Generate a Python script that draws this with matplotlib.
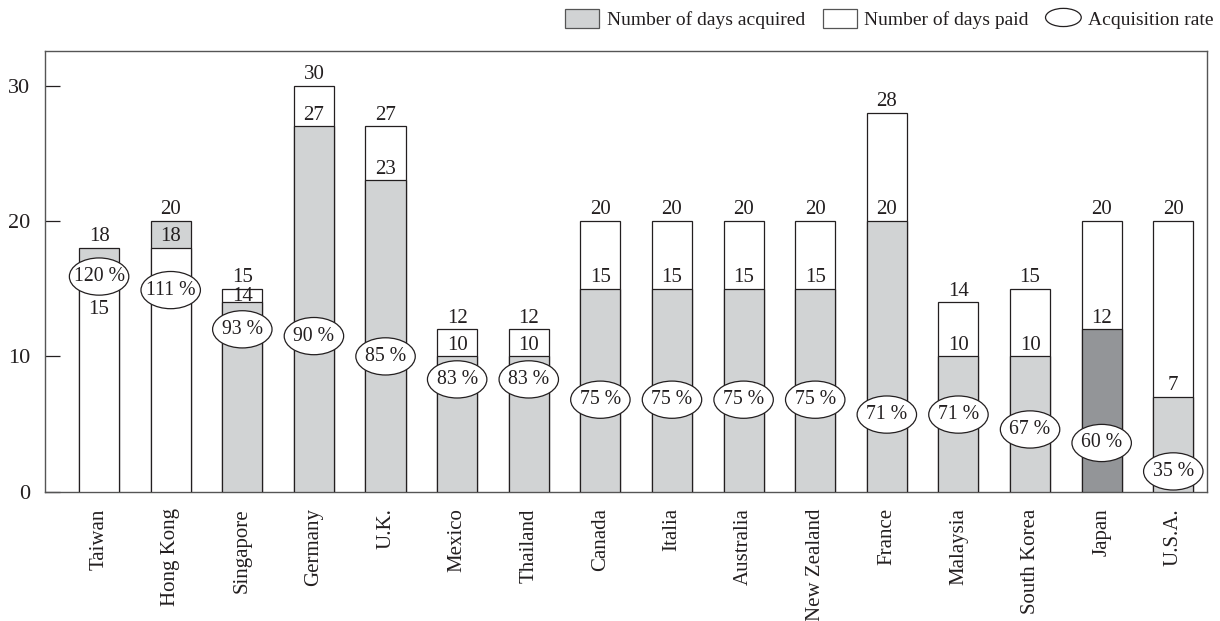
import matplotlib
matplotlib.use("Agg")
import matplotlib.pyplot as plt
from matplotlib.patches import Ellipse, Patch
from matplotlib.legend_handler import HandlerPatch

plt.rcParams["font.family"] = ["Liberation Serif", "DejaVu Serif"]

# data
countries = ["Taiwan", "Hong Kong", "Singapore", "Germany", "U.K.", "Mexico",
             "Thailand", "Canada", "Italia", "Australia", "New Zealand",
             "France", "Malaysia", "South Korea", "Japan", "U.S.A."]
days_paid = [15, 18, 15, 30, 27, 12, 12, 20, 20, 20, 20, 28, 14, 15, 20, 20]
days_acquired = [18, 20, 14, 27, 23, 10, 10, 15, 15, 15, 15, 20, 10, 10, 12, 7]
rate_labels = ["120 %", "111 %", "93 %", "90 %", "85 %", "83 %", "83 %", "75 %",
               "75 %", "75 %", "75 %", "71 %", "71 %", "67 %", "60 %", "35 %"]

# layout: where the rate ellipses sit (in y units)
rate_y = [15.9, 14.9, 12.0, 11.5, 10.0, 8.3, 8.3, 6.8, 6.8, 6.8, 6.8,
          5.7, 5.7, 4.6, 3.6, 1.5]
highlight = "Japan"

GRAY = "#d1d3d4"
DARK = "#939598"
EDGE = "#231f20"


class HandlerEllipse(HandlerPatch):
    def create_artists(self, legend, orig_handle, xdescent, ydescent,
                       width, height, fontsize, trans):
        cx = 0.5 * width - 0.5 * xdescent
        cy = 0.5 * height - 0.5 * ydescent
        p = Ellipse((cx, cy), (width + xdescent) * 1.05, (height + ydescent) * 0.85)
        self.update_prop(p, orig_handle, legend)
        p.set_transform(trans)
        return [p]


fig = plt.figure(figsize=(12.2, 6.21), dpi=100)
ax = fig.add_axes([0.0369, 0.2082, 0.9524, 0.7097])

x = list(range(len(countries)))
w = 0.56
for i, c in enumerate(countries):
    p, a = days_paid[i], days_acquired[i]
    acq_color = DARK if c == highlight else GRAY
    # draw the taller bar first, the shorter one on top
    if a > p:
        ax.bar(i, a, w, color=acq_color, edgecolor=EDGE, linewidth=0.9, zorder=2)
        ax.bar(i, p, w, color="white", edgecolor=EDGE, linewidth=0.9, zorder=3)
    else:
        ax.bar(i, p, w, color="white", edgecolor=EDGE, linewidth=0.9, zorder=2)
        ax.bar(i, a, w, color=acq_color, edgecolor=EDGE, linewidth=0.9, zorder=3)

    hi, lo = max(p, a), min(p, a)
    ax.annotate(str(hi), (i, hi), xytext=(0, 4.8), textcoords="offset points",
                ha="center", va="baseline", fontsize=15, color=EDGE, zorder=6)
    if c == "Taiwan":
        # pushed below the ellipse
        ax.annotate(str(lo), (i, rate_y[i] - 1.4), xytext=(0, -3),
                    textcoords="offset points", ha="center", va="top",
                    fontsize=15, color=EDGE, zorder=6)
    else:
        off = 1.0 if hi - lo < 2 else 4.8
        ax.annotate(str(lo), (i, lo), xytext=(0, off), textcoords="offset points",
                    ha="center", va="baseline", fontsize=15, color=EDGE, zorder=6)

    ax.add_patch(Ellipse((i, rate_y[i]), 0.83, 2.75, facecolor="white",
                         edgecolor=EDGE, linewidth=0.9, zorder=4))
    ax.text(i, rate_y[i], rate_labels[i], ha="center", va="center",
            fontsize=14.2, color=EDGE, zorder=5)

ax.set_xlim(-0.755, 15.47)
ax.set_ylim(0, 32.57)
ax.set_yticks([0, 10, 20, 30])
ax.tick_params(axis="y", direction="in", length=11, width=0.9, color=EDGE,
               labelsize=16, pad=10.5, labelcolor=EDGE)
ax.set_xticks(x)
ax.set_xticklabels(countries, rotation=90, fontsize=15, color=EDGE)
ax.tick_params(axis="x", length=0, pad=12)
for s in ax.spines.values():
    s.set_color("#555555")
    s.set_linewidth(1.0)

handles = [Patch(facecolor=GRAY, edgecolor="#555555", linewidth=0.9),
           Patch(facecolor="white", edgecolor="#555555", linewidth=0.9),
           Ellipse((0, 0), 1, 1, facecolor="white", edgecolor=EDGE, linewidth=0.9)]
labels = ["Number of days acquired", "Number of days paid", "Acquisition rate"]
ax.legend(handles, labels, loc="lower right", bbox_to_anchor=(1.0175, 1.018),
          ncol=3, frameon=False, fontsize=14, handlelength=1.75,
          handleheight=1.1, handletextpad=0.4, columnspacing=0.9,
          borderaxespad=0.3, handler_map={Ellipse: HandlerEllipse()},
          labelcolor=EDGE)

fig.savefig("out.png", dpi=100)
